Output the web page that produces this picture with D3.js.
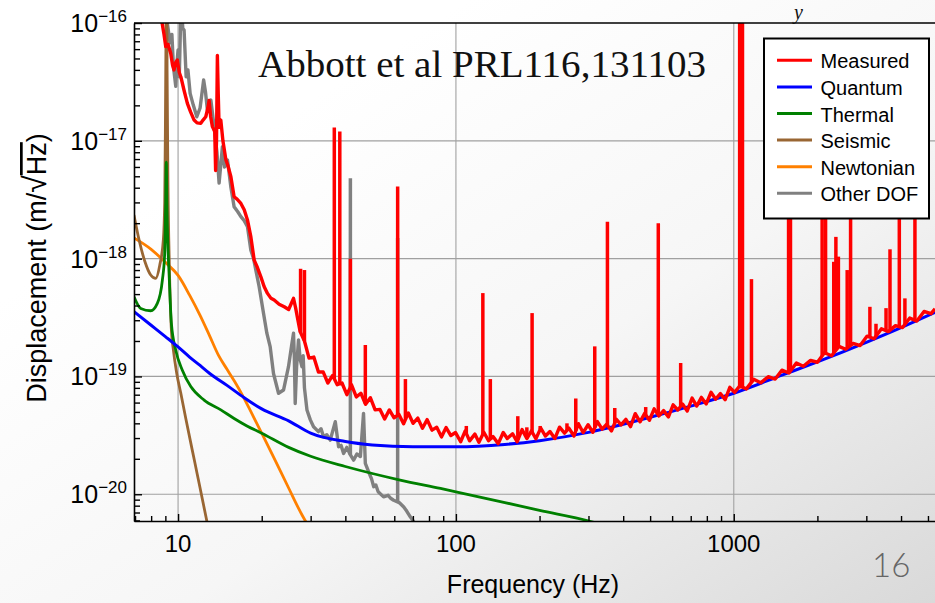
<!DOCTYPE html>
<html><head><meta charset="utf-8">
<script src="https://cdn.jsdelivr.net/npm/d3@7"></script>
<style>
body{margin:0;overflow:hidden;background:#fff}
svg{display:block}
</style>
</head><body>
<svg id="chart" width="935" height="603"></svg>
<script>
// ---------- data (frequency Hz, displacement m/sqrt(Hz)) ----------
const seriesNames = ["Measured","Quantum","Thermal","Seismic","Newtonian","Other DOF"];
const seriesColors = ["#ff0000","#0000ff","#008000","#996633","#ff8000","#808080"];

const quantum = [[6.94,3.55e-19],[8,2.72e-19],[9,2.18e-19],[10,1.78e-19],[11,1.46e-19],[12,1.24e-19],[13,1.06e-19],[15,8.4e-20],[17.3,6.6e-20],[20,5.3e-20],[25,4.2e-20],[30,3.3e-20],[40,2.8e-20],[50,2.62e-20],[70,2.53e-20],[100,2.53e-20],[150,2.65e-20],[200,2.85e-20],[300,3.35e-20],[500,4.5e-20],[700,5.6e-20],[1000,7.2e-20],[1500,1.03e-19],[2000,1.33e-19],[3000,1.95e-19],[4000,2.6e-19],[5300,3.5e-19]];

const thermal = [[6.94,4.75e-19],[7.34,3.78e-19],[7.97,3.61e-19],[8.42,4.17e-19],[8.78,6.58e-19],[8.95,1.11e-18],[9.02,2.8e-18],[9.07,6.6e-18],[9.12,2.6e-18],[9.2,1.2e-18],[9.28,7.5e-19],[9.46,2.82e-19],[9.81,1.67e-19],[10.36,1.13e-19],[11.11,8.2e-20],[12.41,6.3e-20],[14.25,5.2e-20],[15.91,4.4e-20],[17.7,3.8e-20],[20,3.3e-20],[25,2.5e-20],[30,2.1e-20],[40,1.72e-20],[50,1.5e-20],[63,1.32e-20],[88,1.12e-20],[100,1.05e-20],[150,8.5e-21],[200,7.3e-21],[301,5.93e-21],[320,5.7e-21]];

const seismic = [[6.94,2.34e-18],[7.24,1.44e-18],[7.6,9.4e-19],[7.97,7.26e-19],[8.31,6.8e-19],[8.59,8.8e-19],[8.85,1.44e-18],[8.95,3e-18],[9.0,1.2e-17],[9.04,6e-17],[9.07,3e-16],[9.1,3e-16],[9.13,4e-17],[9.2,4e-18],[9.3,9e-19],[9.45,2.6e-19],[9.62,1.67e-19],[9.89,1.06e-19],[10.23,7.2e-20],[10.66,4.4e-20],[11.5,1.84e-20],[12,1.13e-20],[12.69,5.93e-21],[13,4.5e-21]];

const newtonian = [[6.94,1.5e-18],[8,1.2e-18],[9,9.3e-19],[10,7.2e-19],[11,4.9e-19],[12,3.3e-19],[13,2.2e-19],[14,1.5e-19],[15,1.15e-19],[16,9e-20],[17,7e-20],[18,5.4e-20],[20,3.3e-20],[22,2.1e-20],[25,1.13e-20],[28,6.6e-21],[30,5e-21]];

const otherDOF = [[9.05,2e-16],[9.09,1.1e-16],[9.36,6.8e-17],[9.5,8e-17],[9.62,4.3e-17],[9.81,2.9e-17],[9.9,4.5e-17],[10.0,5.9e-17],[10.1,3.5e-17],[10.25,1.5e-16],[10.4,9e-17],[10.51,8.7e-17],[10.69,3.5e-17],[10.85,4e-17],[11.05,2.53e-17],[11.35,2.0e-17],[11.68,1.6e-17],[12.0,1.9e-17],[12.36,3.28e-17],[12.55,2.6e-17],[12.75,1.82e-17],[13.12,2.22e-17],[13.48,1.32e-17],[13.8,8e-18],[14.05,4.38e-18],[14.44,8.9e-18],[14.7,6e-18],[15.06,6.87e-18],[15.5,4e-18],[15.91,2.76e-18],[16.4,2.5e-18],[16.83,2.27e-18],[17.3,2.1e-18],[17.77,1.87e-18],[18.28,1.18e-18],[18.7,1.0e-18],[19.05,8.0e-19],[19.58,5.77e-19],[20.3,3.44e-19],[20.87,2.33e-19],[21.45,1.79e-19],[22.05,1.06e-19],[22.99,7.2e-20],[23.96,7.67e-20],[24.97,1.21e-19],[25.6,1.8e-19],[26.03,2.33e-19],[26.2,1.5e-19],[26.4,5.9e-20],[26.7,1.2e-19],[27.13,2.04e-19],[27.5,1.4e-19],[27.91,1.21e-19],[28.2,1.5e-19],[28.5,8e-20],[29.1,5.19e-20],[29.9,4.3e-20],[30.73,3.74e-20],[32,3.4e-20],[32.7,3.6e-20],[33.39,3.08e-20],[34.3,3.2e-20],[35.29,2.88e-20],[36.8,4.13e-20],[37.82,2.53e-20],[38.6,2.6e-20],[39.42,2.22e-20],[40.5,2.5e-20],[41.5,2.2e-20],[42.83,1.95e-20],[44,2.2e-20],[45.3,2.09e-20],[46.5,4.86e-20],[47.2,1.83e-20],[48.8,1.5e-20],[49.7,1.35e-20],[50.6,1.16e-20],[51.5,1.2e-20],[52.5,1.05e-20],[54.9,9.5e-21],[57,9.8e-21],[58.4,9.2e-21],[59.7,8.9e-21],[62.5,8.5e-21],[64.9,7.8e-21],[66.5,7.2e-21],[68.5,6.44e-21],[70,6e-21],[71.5,5.5e-21],[73,4.5e-21]];
const otherSpikes = [[41.7,4.8e-18],[61.7,1.5e-18]];

const measured = [[8.6,1.3e-16],[8.9,8e-17],[9.03,6.3e-17],[9.2,6.6e-17],[9.41,5.5e-17],[9.55,4.4e-17],[9.67,4.0e-17],[9.8,4.6e-17],[9.94,4.85e-17],[10.1,3.8e-17],[10.23,3.5e-17],[10.5,2.7e-17],[10.8,2.08e-17],[11.1,1.75e-17],[11.42,1.5e-17],[11.7,1.42e-17],[12.07,1.41e-17],[12.3,1.5e-17],[12.58,1.6e-17],[12.8,1.9e-17],[12.93,2.2e-17],[13.1,1.6e-17],[13.29,1.32e-17],[13.55,1.2e-17],[13.65,5.6e-18],[13.75,1.0e-17],[13.85,5.3e-17],[13.95,2.5e-17],[14.05,1.3e-17],[14.25,1.5e-17],[14.5,1.0e-17],[14.86,6.9e-18],[15.1,6.2e-18],[15.49,4.96e-18],[15.91,3.35e-18],[16.3,3.2e-18],[16.83,2.94e-18],[17.3,2.6e-18],[17.77,2.13e-18],[18.28,1.53e-18],[18.79,9.7e-19],[19.3,8.4e-19],[19.86,7.0e-19],[20.4,5.8e-19],[20.98,5.07e-19],[21.6,4.6e-19],[22.18,4.45e-19],[23.1,4.1e-19],[24.1,3.9e-19],[25,3.7e-19],[25.6,4.2e-19],[26.03,4.6e-19],[26.5,3.8e-19],[27.0,3.0e-19],[27.5,2.4e-19],[28.5,2.0e-19],[29.6,1.43e-19],[30.8,1.46e-19],[32.0,1.09e-19],[33.3,1.09e-19],[34.6,8.8e-20],[36.0,1.02e-19],[37.4,8.5e-20],[38.9,8.8e-20],[40.5,7.0e-20],[42.1,8.5e-20],[43.8,6.7e-20],[45.5,7.2e-20],[47.3,5.8e-20],[49.2,6.6e-20],[51.2,5.2e-20],[53.3,5.25e-20],[55.4,4.36e-20],[57.6,5.2e-20],[59.9,4.46e-20],[62.3,4.77e-20],[64.8,3.96e-20],[67.4,4.9e-20],[70.1,4.0e-20],[72.9,4.43e-20],[75.8,3.63e-20],[78.8,4.3e-20],[82.0,3.5e-20],[85.3,3.7e-20],[88.7,3.07e-20],[92.2,3.68e-20],[95.9,3.15e-20],[99.7,3.34e-20],[104,2.79e-20],[108,3.45e-20],[112,2.84e-20],[117,3.24e-20],[121,2.76e-20],[126,3.36e-20],[131,2.85e-20],[136,3.09e-20],[142,2.69e-20],[148,3.34e-20],[153,2.97e-20],[160,3.26e-20],[166,2.79e-20],[173,3.54e-20],[180,2.97e-20],[187,3.45e-20],[194,2.96e-20],[202,3.64e-20],[210,3.12e-20],[218,3.41e-20],[227,2.97e-20],[236,3.71e-20],[246,3.3e-20],[255,3.64e-20],[266,3.12e-20],[276,3.97e-20],[287,3.34e-20],[299,3.89e-20],[311,3.36e-20],[323,4.14e-20],[336,3.57e-20],[349,3.93e-20],[363,3.45e-20],[378,4.33e-20],[393,3.88e-20],[409,4.32e-20],[425,3.75e-20],[442,4.83e-20],[460,4.12e-20],[478,4.86e-20],[497,4.25e-20],[517,5.31e-20],[538,4.62e-20],[559,5.13e-20],[582,4.54e-20],[605,5.74e-20],[629,5.19e-20],[654,5.83e-20],[680,5.09e-20],[708,6.55e-20],[736,5.61e-20],[765,6.64e-20],[796,5.84e-20],[828,7.34e-20],[861,6.41e-20],[895,7.16e-20],[931,6.36e-20],[968,8.09e-20],[1007,7.32e-20],[1050,8.3e-20],[1110,7.84e-20],[1180,9.45e-20],[1250,8.83e-20],[1330,9.95e-20],[1410,9.5e-20],[1490,1.13e-19],[1580,1.07e-19],[1680,1.3e-19],[1780,1.22e-19],[1890,1.37e-19],[2000,1.32e-19],[2120,1.59e-19],[2250,1.5e-19],[2390,1.8e-19],[2530,1.7e-19],[2690,1.91e-19],[2850,1.83e-19],[3020,2.2e-19],[3200,2.09e-19],[3400,2.54e-19],[3600,2.4e-19],[3820,2.7e-19],[4050,2.6e-19],[4300,3.13e-19],[4560,2.95e-19],[4840,3.56e-19],[5130,3.41e-19],[5300,3.75e-19]];
const measuredSpikes = [[27.6,8.2e-19],[28.5,8.0e-19],[36.5,1.3e-17],[38.2,1.2e-17],[41.7,1.0e-18],[47.2,1.85e-19],[61.7,4.1e-18],[65.8,9.5e-20],[109,3.8e-20],[125,5.1e-19],[133,9.5e-20],[167,4.6e-20],[180,3.7e-20],[188,3.45e-19],[201,3.8e-20],[251,4.0e-20],[270,6.5e-20],[316,1.8e-19],[351,2.06e-18],[373,5.4e-20],[482,5.5e-20],[535,2.0e-18],[644,1.3e-19],[1050,2e-16],[1075,2e-16],[1158,6.7e-19],[1575,4e-17],[1600,4e-17],[2080,3e-17],[2140,3e-17],[2290,9.4e-19],[2331,1.53e-18],[2380,1.04e-18],[2560,8e-19],[2633,4e-17],[3090,3.9e-19],[3250,2.8e-19],[3532,3.8e-19],[3650,1.2e-18],[3943,4e-17],[4130,4.6e-19],[4488,4e-17]];

const xMajorTicks = [10,100,1000];
const xTickLabels = ["10","100","1000"];
const yMajorExp = [-16,-17,-18,-19,-20];
const legendLabels = seriesNames;

// ---------- drawing ----------
const W = 935, H = 603;
const SANS = "'Liberation Sans',Arial,sans-serif";
const SERIF = "'Liberation Serif','DejaVu Serif',serif";
const svg = d3.select("#chart");
const defs = svg.append("defs");
const grad = defs.append("linearGradient").attr("id","bg")
  .attr("x1","0").attr("y1","0").attr("x2","1").attr("y2","1");
grad.append("stop").attr("offset","0.25").attr("stop-color","#ffffff");
grad.append("stop").attr("offset","0.6").attr("stop-color","#f6f6f6");
grad.append("stop").attr("offset","1").attr("stop-color","#d9d9d9");
svg.append("rect").attr("width",W).attr("height",H).attr("fill","url(#bg)");

const L = 134, R = 935, T = 23, B = 521;
const x = d3.scaleLog().domain([6.94, 5300]).range([L, R]);
const y = d3.scaleLog().domain([5.93e-21, 1e-16]).range([B, T]);

defs.append("clipPath").attr("id","clip").append("rect")
  .attr("x",L).attr("y",T).attr("width",R-L).attr("height",B-T);

// grid
const grid = svg.append("g");
grid.selectAll(".vg").data(xMajorTicks).join("line")
  .attr("x1",d=>x(d)).attr("x2",d=>x(d)).attr("y1",T).attr("y2",B)
  .attr("stroke","#a8a8a8").attr("stroke-width",1.2);
grid.selectAll(".hg").data(yMajorExp.slice(1)).join("line")
  .attr("x1",L).attr("x2",R).attr("y1",d=>y(Math.pow(10,d))).attr("y2",d=>y(Math.pow(10,d)))
  .attr("stroke","#a0a0a0").attr("stroke-width",1.2);

// curves
const plot = svg.append("g").attr("clip-path","url(#clip)");
const smooth = d3.line().x(d=>x(d[0])).y(d=>y(d[1])).curve(d3.curveMonotoneX);
const raw = d3.line().x(d=>x(d[0])).y(d=>y(d[1]));

function baseAt(series, f){
  for(let i=0;i<series.length-1;i++){
    const a=series[i], b=series[i+1];
    if(f>=a[0] && f<=b[0]){
      const t=(Math.log(f)-Math.log(a[0]))/(Math.log(b[0])-Math.log(a[0]));
      return Math.exp(Math.log(a[1])+t*(Math.log(b[1])-Math.log(a[1])));
    }
  }
  return series[series.length-1][1];
}
function drawSpikes(series, spikes, color){
  plot.append("g").selectAll("line").data(spikes).join("line")
    .attr("x1",d=>x(d[0])).attr("x2",d=>x(d[0]))
    .attr("y1",d=>y(baseAt(series,d[0]))).attr("y2",d=>y(d[1]))
    .attr("stroke",color).attr("stroke-width",3.5);
}

plot.append("path").datum(otherDOF).attr("d",raw).attr("fill","none")
  .attr("stroke",seriesColors[5]).attr("stroke-width",3.4).attr("stroke-linejoin","round");
drawSpikes(otherDOF, otherSpikes, seriesColors[5]);
plot.append("path").datum(newtonian).attr("d",smooth).attr("fill","none")
  .attr("stroke",seriesColors[4]).attr("stroke-width",2.8);
plot.append("path").datum(seismic).attr("d",smooth).attr("fill","none")
  .attr("stroke",seriesColors[3]).attr("stroke-width",2.8);
plot.append("path").datum(thermal).attr("d",smooth).attr("fill","none")
  .attr("stroke",seriesColors[2]).attr("stroke-width",2.8);
plot.append("path").datum(quantum).attr("d",smooth).attr("fill","none")
  .attr("stroke",seriesColors[1]).attr("stroke-width",3);
plot.append("path").datum(measured).attr("d",raw).attr("fill","none")
  .attr("stroke",seriesColors[0]).attr("stroke-width",3.4).attr("stroke-linejoin","round");
drawSpikes(measured, measuredSpikes, seriesColors[0]);

// axes
const yMinor = [];
for(let e=-21;e<=-17;e++) for(let m=2;m<=9;m++){const v=m*Math.pow(10,e); if(v>=5.93e-21&&v<=1e-16) yMinor.push(v);}
const xMinor = [];
for(let e=0;e<=3;e++) for(let m=2;m<=9;m++){const v=m*Math.pow(10,e); if(v>=6.94&&v<=5300) xMinor.push(v);}

svg.append("g").attr("transform",`translate(${L},0)`)
  .call(d3.axisLeft(y).tickValues(yMajorExp.map(e=>Math.pow(10,e))).tickSize(-8).tickSizeOuter(0).tickFormat(""));
svg.append("g").attr("transform",`translate(${L},0)`)
  .call(d3.axisLeft(y).tickValues(yMinor).tickSize(-6).tickSizeOuter(0).tickFormat(""))
  .select(".domain").remove();
svg.append("g").attr("transform",`translate(0,${B})`)
  .call(d3.axisBottom(x).tickValues(xMajorTicks).tickSize(-7).tickSizeOuter(0).tickFormat(""));
svg.append("g").attr("transform",`translate(0,${B})`)
  .call(d3.axisBottom(x).tickValues(xMinor).tickSize(-5).tickSizeOuter(0).tickFormat(""))
  .select(".domain").remove();
svg.selectAll(".domain").attr("stroke","#000").attr("stroke-width",1.6);
svg.selectAll(".tick line").attr("stroke","#000").attr("stroke-width",1.4);
svg.append("line").attr("x1",L).attr("x2",R).attr("y1",T).attr("y2",T)
  .attr("stroke","#000").attr("stroke-width",1.6);

// tick labels
svg.append("g").selectAll("text").data(xMajorTicks).join("text")
  .attr("x",d=>x(d)).attr("y",552).attr("text-anchor","middle")
  .style("font-family",SANS).attr("font-size",24).attr("fill","#000").text((d,i)=>xTickLabels[i]);
const yl = svg.append("g").selectAll("text").data(yMajorExp).join("text")
  .attr("x",127).attr("y",d=>y(Math.pow(10,d))+9).attr("text-anchor","end")
  .style("font-family",SANS).attr("font-size",25).attr("fill","#000");
yl.append("tspan").text("10");
yl.append("tspan").attr("dy",-10).attr("font-size",17).text(d=>"\u2212"+Math.abs(d));

// axis titles
svg.append("text").attr("x",533).attr("y",593).attr("text-anchor","middle")
  .style("font-family",SANS).attr("font-size",25).attr("fill","#000").text("Frequency (Hz)");
const yt = svg.append("text").attr("transform","translate(46,268) rotate(-90)")
  .attr("text-anchor","middle").style("font-family",SANS).attr("font-size",27).attr("fill","#000");
yt.append("tspan").text("Displacement (m/");
yt.append("tspan").attr("font-size",32).text("\u221A");
yt.append("tspan").style("text-decoration","overline").text("Hz");
yt.append("tspan").text(")");

// legend
const lg = svg.append("g");
lg.append("rect").attr("x",764).attr("y",38.5).attr("width",165).attr("height",180)
  .attr("fill","#fff").attr("stroke","#000").attr("stroke-width",2);
const rows = lg.selectAll("g.row").data(legendLabels).join("g")
  .attr("transform",(d,i)=>`translate(0,${68.3+i*26.6})`);
rows.append("line").attr("x1",777).attr("x2",812).attr("y1",-8).attr("y2",-8)
  .attr("stroke",(d,i)=>seriesColors[i]).attr("stroke-width",3);
rows.append("text").attr("x",820.5).attr("y",0).style("font-family",SANS)
  .attr("font-size",20).attr("fill","#000").text(d=>d);

// annotations
svg.append("text").attr("x",258).attr("y",77).style("font-family",SERIF)
  .attr("font-size",38).attr("textLength",448).attr("lengthAdjust","spacingAndGlyphs")
  .attr("fill","#111").text("Abbott et al PRL116,131103");
svg.append("text").attr("x",794).attr("y",19).style("font-family",SERIF)
  .style("font-style","italic").attr("font-size",20).attr("fill","#111").text("y");
svg.append("text").attr("x",872).attr("y",577).style("font-family","Lato,'Open Sans',sans-serif")
  .style("font-weight",300).attr("font-size",33).attr("fill","#666").text("16");
</script>
</body></html>
